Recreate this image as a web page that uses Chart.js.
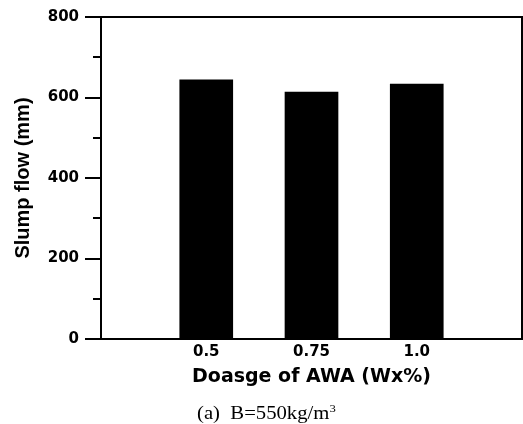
<!DOCTYPE html>
<html>
<head>
<meta charset="utf-8">
<script src="https://cdn.jsdelivr.net/npm/chart.js@4/dist/chart.umd.min.js"></script>
<style>
    html, body { margin: 0; padding: 0; background: #fff; overflow: hidden; }
    #wrap { position: relative; width: 523px; height: 424px; }
    #slumpChart { display: block; }
    #caption {
        position: absolute;
        left: 197px;
        top: 404px;
        font: 18px 'Liberation Serif', 'Times New Roman', serif;
        line-height: 1;
        white-space: nowrap;
        transform: scaleX(1.15);
        transform-origin: left top;
        color: #000;
    }
    #caption sup { font-size: 11px; position: relative; top: -7px; vertical-align: baseline; }
</style>
</head>
<body>
<div id="wrap">
    <canvas id="slumpChart" width="523" height="424"></canvas>
    <div id="caption">(a)&nbsp; B=550kg/m<sup>3</sup></div>
</div>
<script>
// values
const categories = ['0.5', '0.75', '1.0'];
const slumpFlow = [645, 614, 634];
const yTicks = [0, 200, 400, 600, 800];

const labels = ['', ...categories, ''];
const values = [null, ...slumpFlow, null];

// frame on top/right plus the short minor ticks between the labelled ones
const framePlugin = {
    id: 'frame',
    afterDraw(chart) {
        const { ctx, chartArea } = chart;
        const yScale = chart.scales.y;
        ctx.save();
        ctx.strokeStyle = '#000';
        ctx.lineWidth = 2;
        ctx.beginPath();
        ctx.moveTo(chartArea.left, chartArea.top);
        ctx.lineTo(chartArea.right, chartArea.top);
        ctx.lineTo(chartArea.right, chartArea.bottom);
        ctx.stroke();

        const ticks = yScale.ticks;
        ctx.beginPath();
        for (let i = 0; i < ticks.length - 1; i++) {
            const mid = (ticks[i].value + ticks[i + 1].value) / 2;
            const y = Math.round(yScale.getPixelForValue(mid));
            ctx.moveTo(chartArea.left - 8, y);
            ctx.lineTo(chartArea.left, y);
        }
        ctx.stroke();
        ctx.restore();
    },
};

new Chart(document.getElementById('slumpChart'), {
    type: 'bar',
    data: {
        labels,
        datasets: [{
            data: values,
            backgroundColor: '#000',
            borderWidth: 0,
            categoryPercentage: 1,
            barPercentage: 0.51,
        }],
    },
    options: {
        responsive: false,
        animation: false,
        layout: { padding: { top: 17, right: 1, left: 0, bottom: 0 } },
        plugins: {
            legend: { display: false },
            tooltip: { enabled: false },
        },
        scales: {
            x: {
                offset: false,
                afterFit: (scale) => {
                    scale.height = 85;
                    scale.paddingLeft = 0;
                    scale.paddingRight = 0;
                },
                grid: { display: false, drawTicks: false },
                border: { display: true, color: '#000', width: 2 },
                ticks: {
                    color: '#000',
                    padding: 4,
                    maxRotation: 0,
                    autoSkip: false,
                    font: { family: 'DejaVu Sans', size: 15, weight: 'bold' },
                },
                title: {
                    display: true,
                    text: 'Doasge of AWA (Wx%)',
                    color: '#000',
                    font: { family: 'DejaVu Sans', size: 19, weight: 'bold' },
                    padding: { top: 0, bottom: 36 },
                },
            },
            y: {
                min: 0,
                max: 800,
                afterFit: (scale) => { scale.width = 101; },
                afterBuildTicks: (scale) => { scale.ticks = yTicks.map((v) => ({ value: v })); },
                grid: {
                    drawOnChartArea: false,
                    drawTicks: true,
                    tickLength: 16,
                    color: '#000',
                    lineWidth: 2,
                },
                border: { display: true, color: '#000', width: 2 },
                ticks: {
                    color: '#000',
                    padding: 6,
                    font: { family: 'DejaVu Sans', size: 15, weight: 'bold' },
                },
                title: {
                    display: true,
                    text: 'Slump flow (mm)',
                    color: '#000',
                    font: { family: 'Liberation Sans', size: 20, weight: 'bold' },
                    padding: { top: 11, bottom: 0 },
                },
            },
        },
    },
    plugins: [framePlugin],
});
</script>
</body>
</html>
